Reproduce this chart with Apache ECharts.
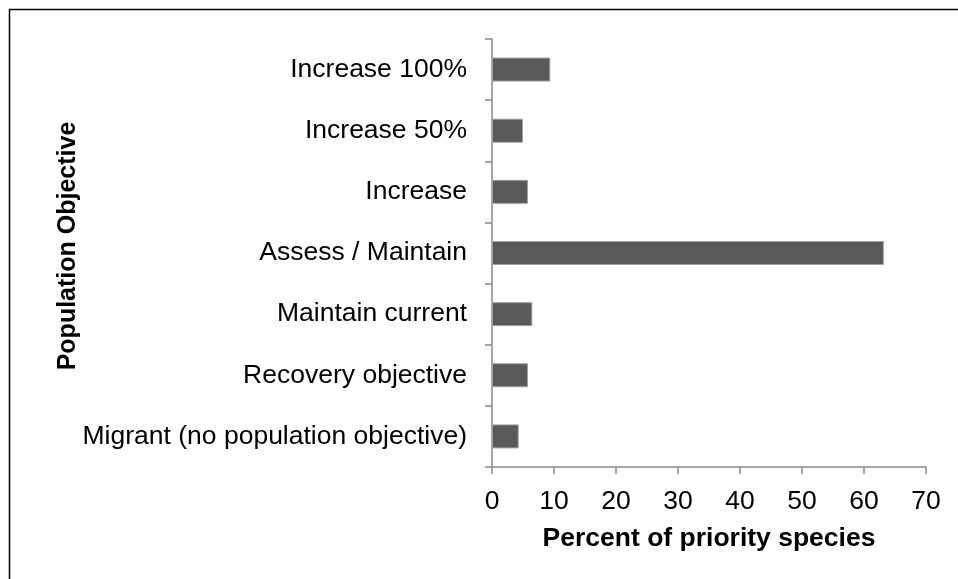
<!DOCTYPE html>
<html>
<head>
<meta charset="utf-8">
<script src="https://cdn.jsdelivr.net/npm/echarts@6/dist/echarts.min.js"></script>
<style>
html,body{margin:0;padding:0;background:#fff;}
#chart{width:958px;height:579px;}
</style>
</head>
<body>
<div id="chart"></div>
<script>
const categories = [
  'Migrant (no population objective)',
  'Recovery objective',
  'Maintain current',
  'Assess / Maintain',
  'Increase',
  'Increase 50%',
  'Increase 100%'
];
const values = [4.3, 5.8, 6.5, 63.2, 5.8, 5.0, 9.4];
const xTitle = 'Percent of priority species';
const yTitle = 'Population Objective';

const FONT = "'Liberation Sans', Arial, sans-serif";
const chart = echarts.init(document.getElementById('chart'), null, {renderer: 'canvas'});
chart.setOption({
  animation: false,
  backgroundColor: '#fff',
  grid: {left: 492, right: 32, top: 39, bottom: 112, containLabel: false},
  xAxis: {
    type: 'value', min: 0, max: 70, interval: 10,
    name: xTitle, nameLocation: 'middle', nameGap: 58,
    nameTextStyle: {fontFamily: FONT, fontSize: 26.5, fontWeight: 'bold', color: '#000'},
    axisLine: {show: true, lineStyle: {color: '#8a8a8a', width: 1.5}},
    axisTick: {show: true, length: 7, lineStyle: {color: '#8a8a8a', width: 1.5}},
    axisLabel: {fontFamily: FONT, fontSize: 26.5, color: '#000', margin: 21},
    splitLine: {show: false}
  },
  yAxis: {
    type: 'category', data: categories,
    axisLine: {show: true, lineStyle: {color: '#8a8a8a', width: 1.5}},
    axisTick: {show: true, length: 7, lineStyle: {color: '#8a8a8a', width: 1.5}},
    axisLabel: {fontFamily: FONT, fontSize: 26.5, color: '#000', margin: 25},
    splitLine: {show: false}
  },
  series: [{
    type: 'bar', data: values, barWidth: 24,
    itemStyle: {color: '#595959', borderColor: '#a0a0a0', borderWidth: 1}
  }],
  graphic: [
    {type: 'rect', shape: {x: 9.5, y: 9.5, width: 1200, height: 1200},
     style: {fill: 'none', stroke: '#000', lineWidth: 1.5}, silent: true},
    {type: 'text', x: 68, y: 246, rotation: Math.PI / 2,
     style: {text: yTitle, fontFamily: FONT, fontSize: 25, fontWeight: 'bold', fill: '#000',
             textAlign: 'center', textVerticalAlign: 'middle'}}
  ]
});
</script>
</body>
</html>
